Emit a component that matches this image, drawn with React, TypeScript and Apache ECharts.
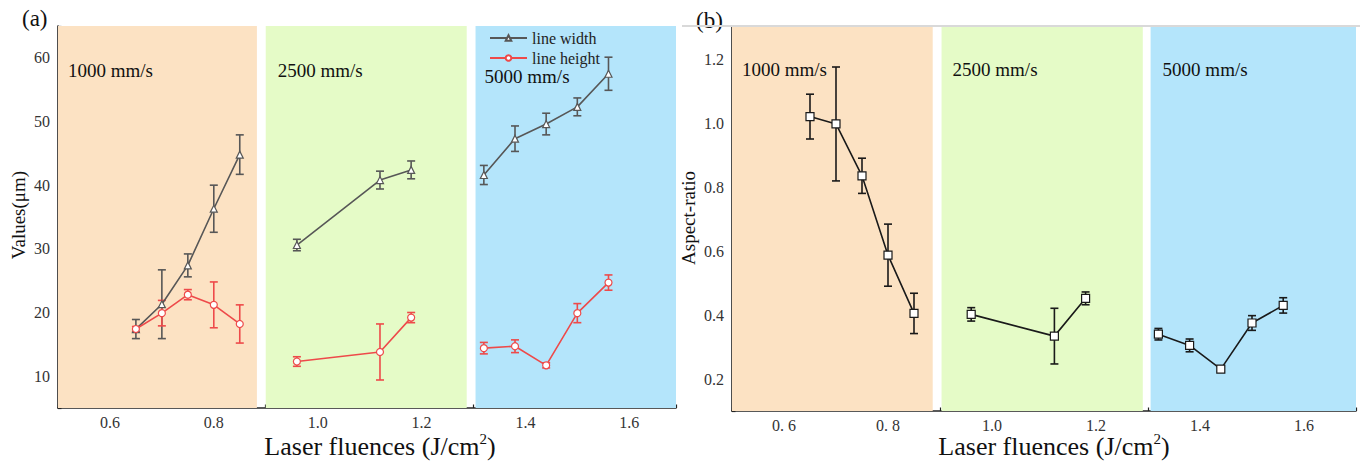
import React, { useEffect, useRef } from "react";
import * as echarts from "echarts";

// ---------------- data ----------------
const fluences = [0.65, 0.7, 0.75, 0.8, 0.85, 0.96, 1.12, 1.18, 1.32, 1.38, 1.44, 1.5, 1.56];
const groupOf = [0, 0, 0, 0, 0, 1, 1, 1, 2, 2, 2, 2, 2];
const widthMean = [17.4, 21.3, 27.4, 36.3, 44.8, 30.6, 40.8, 42.4, 41.6, 47.3, 49.6, 52.3, 57.5];
const widthErr = [1.5, 5.4, 1.8, 3.7, 3.1, 0.9, 1.4, 1.4, 1.5, 2.0, 1.7, 1.4, 2.6];
const heightMean = [17.4, 19.9, 22.8, 21.2, 18.2, 12.3, 13.8, 19.2, 14.4, 14.7, 11.7, 19.9, 24.7];
const heightErr = [0.4, 2.0, 0.8, 3.6, 3.0, 0.75, 4.4, 0.8, 0.9, 1.0, 0.4, 1.5, 1.2];
const ratioMean = [1.02, 0.997, 0.835, 0.587, 0.405, 0.402, 0.334, 0.452, 0.34, 0.305, 0.231, 0.375, 0.43];
const ratioErr = [0.07, 0.178, 0.055, 0.097, 0.063, 0.021, 0.087, 0.02, 0.018, 0.02, 0.008, 0.023, 0.024];

const regionStartA = [0.5, 0.9, 1.304];
const regionEndA = [0.883, 1.287, 1.69];
const regionStartB = [0.5, 0.903, 1.305];
const regionEndB = [0.886, 1.29, 1.7];
const speedLabels = ["1000 mm/s", "2500 mm/s", "5000 mm/s"];
const seriesNames = ["line width", "line height"];

const xTickValues = [0.6, 0.8, 1.0, 1.2, 1.4, 1.6];
const xTickLabelsA = ["0.6", "0.8", "1.0", "1.2", "1.4", "1.6"];
const xTickLabelsB = ["0. 6", "0. 8", "1.0", "1.2", "1.4", "1.6"];
const yTickValuesA = [10, 20, 30, 40, 50, 60];
const yTickLabelsA = ["10", "20", "30", "40", "50", "60"];
const yTickValuesB = [0.2, 0.4, 0.6, 0.8, 1.0, 1.2];
const yTickLabelsB = ["0.2", "0.4", "0.6", "0.8", "1.0", "1.2"];

// ---------------- styles ----------------
const FONT = "'Liberation Serif', 'DejaVu Serif', serif";
const REGION_COLORS = ["#fce2c3", "#e5fbc7", "#b4e5fb"];
const GRAY = "#575757";
const RED = "#ee4a4a";
const BLACK = "#1a1a1a";

function lookup(values: number[], labels: string[], v: number) {
  for (let i = 0; i < values.length; i++) if (Math.abs(values[i] - v) < 1e-6) return labels[i];
  return "";
}

function groupedData(means: number[], g: number) {
  const out: number[][] = [];
  fluences.forEach((x, i) => {
    if (groupOf[i] === g) out.push([x, means[i]]);
  });
  return out;
}

function errData(means: number[], errs: number[]) {
  return fluences.map((x, i) => [x, means[i] - errs[i], means[i] + errs[i]]);
}

function errRender(color: string) {
  return (params: any, api: any) => {
    const x = api.value(0);
    const lo = api.coord([x, api.value(1)]);
    const hi = api.coord([x, api.value(2)]);
    const hw = 4;
    const style = { stroke: color, lineWidth: 1.6 };
    return {
      type: "group",
      children: [
        { type: "line", shape: { x1: lo[0], y1: lo[1], x2: hi[0], y2: hi[1] }, style },
        { type: "line", shape: { x1: lo[0] - hw, y1: lo[1], x2: lo[0] + hw, y2: lo[1] }, style },
        { type: "line", shape: { x1: hi[0] - hw, y1: hi[1], x2: hi[0] + hw, y2: hi[1] }, style },
      ],
    };
  };
}

function mainX(grid: number, max: number, labels: string[]) {
  return {
    type: "value",
    gridIndex: grid,
    position: "bottom",
    min: 0.5,
    max,
    axisLine: { show: true, onZero: false, lineStyle: { color: "#222", width: 1.6 } },
    axisTick: { show: true, inside: true, length: 6, customValues: xTickValues, lineStyle: { color: "#222", width: 1.4 } },
    axisLabel: {
      show: true,
      customValues: xTickValues,
      formatter: (v: number) => lookup(xTickValues, labels, v),
      color: "#333",
      fontFamily: FONT,
      fontSize: 16,
      margin: 6,
    },
    splitLine: { show: false },
  };
}
function minorX(grid: number, max: number) {
  return {
    type: "value",
    gridIndex: grid,
    position: "bottom",
    min: 0.5,
    max,
    interval: 0.1,
    axisLine: { show: false, onZero: false },
    axisTick: { show: true, inside: true, length: 3.5, lineStyle: { color: "#222", width: 1.2 } },
    axisLabel: { show: false },
    splitLine: { show: false },
  };
}
function mainY(grid: number, min: number, max: number, values: number[], labels: string[]) {
  return {
    type: "value",
    gridIndex: grid,
    position: "left",
    min,
    max,
    axisLine: { show: true, onZero: false, lineStyle: { color: "#222", width: 1.6 } },
    axisTick: { show: true, inside: true, length: 6, customValues: values, lineStyle: { color: "#222", width: 1.4 } },
    axisLabel: {
      show: true,
      customValues: values,
      formatter: (v: number) => lookup(values, labels, v),
      color: "#333",
      fontFamily: FONT,
      fontSize: 16,
      margin: 8,
    },
    splitLine: { show: false },
  };
}
function minorY(grid: number, min: number, max: number, interval: number) {
  return {
    type: "value",
    gridIndex: grid,
    position: "left",
    min,
    max,
    interval,
    axisLine: { show: false, onZero: false },
    axisTick: { show: true, inside: true, length: 3.5, lineStyle: { color: "#222", width: 1.2 } },
    axisLabel: { show: false },
    splitLine: { show: false },
  };
}

function background(xIdx: number, yIdx: number, starts: number[], ends: number[], labelPos: number[][]) {
  return {
    type: "line",
    xAxisIndex: xIdx,
    yAxisIndex: yIdx,
    data: [],
    silent: true,
    z: 1,
    markArea: {
      silent: true,
      data: starts.map((s, i) => [
        {
          xAxis: s,
          itemStyle: { color: REGION_COLORS[i], opacity: 1 },
          label: {
            show: true,
            formatter: speedLabels[i],
            position: labelPos[i],
            color: "#111",
            fontFamily: FONT,
            fontSize: 19,
          },
        },
        { xAxis: ends[i] },
      ]),
    },
  };
}

export default function App() {
  const ref = useRef<HTMLDivElement>(null);
  useEffect(() => {
    if (!ref.current) return;
    const chart = echarts.init(ref.current, undefined, { renderer: "svg" });

    const series: any[] = [];
    series.push(background(0, 0, regionStartA, regionEndA, [[10, 35], [12, 35], [9, 41]]));
    series.push(background(2, 2, regionStartB, regionEndB, [[10, 33], [11, 33], [12, 33]]));

    // error bars
    series.push({
      type: "custom",
      name: "width-err",
      xAxisIndex: 0,
      yAxisIndex: 0,
      z: 2,
      silent: true,
      renderItem: errRender(GRAY),
      encode: { x: 0, y: [1, 2] },
      data: errData(widthMean, widthErr),
    });
    series.push({
      type: "custom",
      name: "height-err",
      xAxisIndex: 0,
      yAxisIndex: 0,
      z: 2,
      silent: true,
      renderItem: errRender(RED),
      encode: { x: 0, y: [1, 2] },
      data: errData(heightMean, heightErr),
    });
    series.push({
      type: "custom",
      name: "ratio-err",
      xAxisIndex: 2,
      yAxisIndex: 2,
      z: 2,
      silent: true,
      renderItem: errRender(BLACK),
      encode: { x: 0, y: [1, 2] },
      data: errData(ratioMean, ratioErr),
    });

    for (let g = 0; g < 3; g++) {
      series.push({
        type: "line",
        name: seriesNames[0],
        xAxisIndex: 0,
        yAxisIndex: 0,
        z: 3,
        data: groupedData(widthMean, g),
        symbol: "triangle",
        symbolSize: 7,
        lineStyle: { color: GRAY, width: 1.6 },
        itemStyle: { color: "#ffffff", borderColor: GRAY, borderWidth: 1.2 },
      });
      series.push({
        type: "line",
        name: seriesNames[1],
        xAxisIndex: 0,
        yAxisIndex: 0,
        z: 3,
        data: groupedData(heightMean, g),
        symbol: "circle",
        symbolSize: 7,
        lineStyle: { color: RED, width: 1.6 },
        itemStyle: { color: "#ffffff", borderColor: RED, borderWidth: 1.2 },
      });
      series.push({
        type: "line",
        name: "aspect-ratio",
        xAxisIndex: 2,
        yAxisIndex: 2,
        z: 3,
        data: groupedData(ratioMean, g),
        symbol: "rect",
        symbolSize: 8,
        lineStyle: { color: BLACK, width: 1.6 },
        itemStyle: { color: "#ffffff", borderColor: BLACK, borderWidth: 1.2 },
      });
    }

    const titleRich = {
      sup: { fontSize: 15, fontFamily: FONT, lineHeight: 16, verticalAlign: "top", fill: "#111" },
    };

    chart.setOption({
      animation: false,
      backgroundColor: "#ffffff",
      textStyle: { fontFamily: FONT },
      grid: [
        { left: 58, top: 26, width: 618, height: 382 },
        { left: 732, top: 27, width: 624, height: 384 },
      ],
      xAxis: [mainX(0, 1.69, xTickLabelsA), minorX(0, 1.69), mainX(1, 1.7, xTickLabelsB), minorX(1, 1.7)],
      yAxis: [
        mainY(0, 5, 65, yTickValuesA, yTickLabelsA),
        minorY(0, 5, 65, 5),
        mainY(1, 0.1, 1.3, yTickValuesB, yTickLabelsB),
        minorY(1, 0.1, 1.3, 0.1),
      ],
      legend: {
        data: seriesNames,
        orient: "vertical",
        left: 484,
        top: 25,
        itemWidth: 37,
        itemHeight: 7,
        itemGap: 4,
        textStyle: { fontFamily: FONT, fontSize: 16, color: "#222", lineHeight: 16 },
        selectedMode: false,
      },
      graphic: [
        { type: "line", shape: { x1: 682, y1: 26, x2: 1360, y2: 26 }, style: { stroke: "#d9d9d9", lineWidth: 2 }, z: 10 },
        { type: "text", left: 22, top: 7, style: { text: "(a)", fontFamily: FONT, fontSize: 23, fill: "#111" } },
        { type: "text", left: 696, top: 9, style: { text: "(b)", fontFamily: FONT, fontSize: 23, fill: "#111" } },
        {
          type: "text",
          x: 18,
          y: 215,
          rotation: Math.PI / 2,
          style: { text: "Values(μm)", fontFamily: FONT, fontSize: 19, fill: "#111", align: "center", verticalAlign: "middle" },
        },
        {
          type: "text",
          x: 688,
          y: 218,
          rotation: Math.PI / 2,
          style: { text: "Aspect-ratio", fontFamily: FONT, fontSize: 19, fill: "#111", align: "center", verticalAlign: "middle" },
        },
        {
          type: "text",
          x: 380,
          y: 446,
          style: {
            text: "Laser fluences (J/cm{sup|2})",
            rich: titleRich,
            fontFamily: FONT,
            fontSize: 26,
            lineHeight: 30,
            fill: "#111",
            align: "center",
            verticalAlign: "middle",
          },
        },
        {
          type: "text",
          x: 1054,
          y: 446,
          style: {
            text: "Laser fluences (J/cm{sup|2})",
            rich: titleRich,
            fontFamily: FONT,
            fontSize: 26,
            lineHeight: 30,
            fill: "#111",
            align: "center",
            verticalAlign: "middle",
          },
        },
      ],
      series,
    });
    return () => chart.dispose();
  }, []);
  return <div ref={ref} style={{ position: "fixed", left: 0, top: 0, width: 1365, height: 461 }} />;
}
